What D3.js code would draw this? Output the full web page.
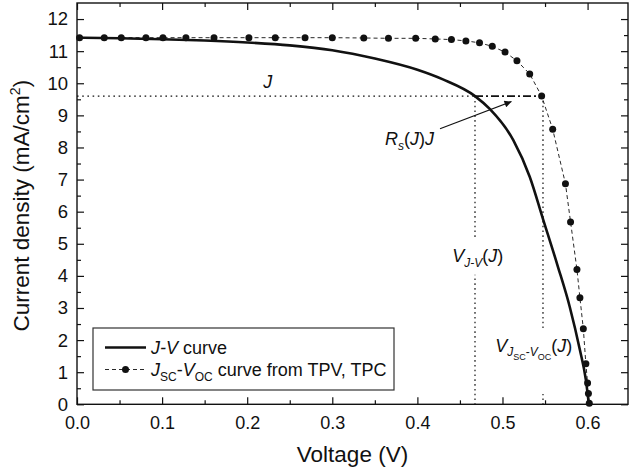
<!DOCTYPE html>
<html><head><meta charset="utf-8">
<script src="https://cdn.jsdelivr.net/npm/d3@7"></script>
<style>
body{margin:0;background:#fff}
svg{display:block}
text{font-family:"Liberation Sans",Arial,Helvetica,sans-serif;fill:#111}
</style>
</head><body>
<svg id="c" width="629" height="472"></svg>
<script>
// ---- data ----
const jvV = [0, 0.05, 0.10, 0.15, 0.20, 0.25, 0.30, 0.35, 0.40, 0.43, 0.4677, 0.485, 0.5127, 0.532, 0.548, 0.565, 0.579, 0.591, 0.598, 0.6015];
const jvJ = [11.42, 11.40, 11.37, 11.33, 11.27, 11.18, 11.03, 10.77, 10.42, 10.12, 9.60, 9.20, 8.23, 7.09, 5.74, 4.30, 3.04, 1.69, 0.76, 0.0];

const tpvV = [0.003, 0.032, 0.052, 0.081, 0.101, 0.128, 0.161, 0.202, 0.233, 0.268, 0.300, 0.337, 0.366, 0.398, 0.421, 0.440, 0.457, 0.473, 0.488, 0.503, 0.517, 0.532, 0.546, 0.559, 0.574, 0.580, 0.5875, 0.591, 0.595, 0.598, 0.600, 0.601, 0.602];
const tpvJ = [11.42, 11.42, 11.42, 11.42, 11.42, 11.42, 11.42, 11.42, 11.42, 11.42, 11.42, 11.41, 11.40, 11.40, 11.38, 11.36, 11.32, 11.26, 11.15, 10.97, 10.70, 10.29, 9.60, 8.57, 6.87, 5.68, 4.20, 3.32, 2.35, 1.26, 0.66, 0.34, 0.03];

const xTicks = [0, 0.1, 0.2, 0.3, 0.4, 0.5, 0.6];
const xTickLabels = ["0.0", "0.1", "0.2", "0.3", "0.4", "0.5", "0.6"];
const xMinor = [0.05, 0.15, 0.25, 0.35, 0.45, 0.55];
const yTicks = [0, 1, 2, 3, 4, 5, 6, 7, 8, 9, 10, 11, 12];
const yMinor = [0.5, 1.5, 2.5, 3.5, 4.5, 5.5, 6.5, 7.5, 8.5, 9.5, 10.5, 11.5];

const annJ = 9.6;          // J level
const annVjv = 0.4677;     // V_J-V(J)
const annVtpv = 0.5476;    // V_Jsc-Voc(J)
const arrowFrom = [0.4266, 8.58];
const arrowTo = [0.5106, 9.43];

// ---- layout ----
const L = 77, R = 628, T = 3, B = 404.3;
const x = d3.scaleLinear().domain([0, 0.6475]).range([L, R]);
const y = d3.scaleLinear().domain([0, 12.5]).range([B, T]);
const svg = d3.select("#c");
const ink = "#111";

// defs
svg.append("defs").append("marker")
  .attr("id", "ah").attr("viewBox", "0 0 10 10").attr("refX", 10).attr("refY", 5)
  .attr("markerWidth", 11).attr("markerHeight", 7).attr("markerUnits", "userSpaceOnUse")
  .attr("orient", "auto")
  .append("path").attr("d", "M0,0 L10,5 L0,10 Z").attr("fill", ink);

// ---- axes ----
function styleAxis(g){
  g.select(".domain").remove();
  g.selectAll(".tick line").attr("stroke", ink).attr("stroke-width", 1.2);
}
svg.append("g").attr("transform", `translate(0,${B})`)
  .call(d3.axisBottom(x).tickValues(xTicks).tickSize(-7).tickPadding(12).tickFormat((d,i)=>xTickLabels[i]))
  .call(styleAxis).call(g=>g.selectAll("text").attr("font-size",18).attr("fill",ink).style("font-family",'"Liberation Sans",Arial,sans-serif'));
svg.append("g").attr("transform", `translate(0,${B})`)
  .call(d3.axisBottom(x).tickValues(xMinor).tickSize(-4).tickFormat(""))
  .call(styleAxis);
svg.append("g").attr("transform", `translate(0,${T})`)
  .call(d3.axisTop(x).tickValues(xTicks).tickSize(-7).tickFormat("")).call(styleAxis);
svg.append("g").attr("transform", `translate(0,${T})`)
  .call(d3.axisTop(x).tickValues(xMinor).tickSize(-4).tickFormat("")).call(styleAxis);

svg.append("g").attr("transform", `translate(${L},0)`)
  .call(d3.axisLeft(y).tickValues(yTicks).tickSize(-7).tickPadding(9).tickFormat(d3.format("d")))
  .call(styleAxis).call(g=>g.selectAll("text").attr("font-size",18.5).attr("fill",ink).style("font-family",'"Liberation Sans",Arial,sans-serif'));
svg.append("g").attr("transform", `translate(${L},0)`)
  .call(d3.axisLeft(y).tickValues(yMinor).tickSize(-4).tickFormat("")).call(styleAxis);
svg.append("g").attr("transform", `translate(${R},0)`)
  .call(d3.axisRight(y).tickValues(yTicks).tickSize(-7).tickFormat("")).call(styleAxis);
svg.append("g").attr("transform", `translate(${R},0)`)
  .call(d3.axisRight(y).tickValues(yMinor).tickSize(-4).tickFormat("")).call(styleAxis);

// frame
svg.append("rect").attr("x", L).attr("y", T).attr("width", R-L).attr("height", B-T)
  .attr("fill", "none").attr("stroke", ink).attr("stroke-width", 1.4);

// axis titles
svg.append("text").attr("x", (L+R)/2).attr("y", 461.5).attr("text-anchor", "middle")
  .attr("font-size", 22.5).text("Voltage (V)");
const yt = svg.append("text").attr("transform", `translate(29,${(T+B)/2+2}) rotate(-90)`)
  .attr("text-anchor", "middle").attr("font-size", 22.5);
yt.append("tspan").text("Current density (mA/cm");
yt.append("tspan").attr("font-size", 14).attr("dy", -9).text("2");
yt.append("tspan").attr("dy", 9).text(")");

// ---- annotation lines ----
const ann = svg.append("g");
ann.append("line").attr("x1", x(0)).attr("x2", x(annVjv)).attr("y1", y(annJ)).attr("y2", y(annJ))
  .attr("stroke", ink).attr("stroke-width", 1.2).attr("stroke-dasharray", "1.6,3.6");
ann.append("line").attr("x1", x(annVjv)).attr("x2", x(annVtpv)).attr("y1", y(annJ)).attr("y2", y(annJ))
  .attr("stroke", ink).attr("stroke-width", 1.6).attr("stroke-dasharray", "8,3,2,3");
[annVjv, annVtpv].forEach(v=>{
  ann.append("line").attr("x1", x(v)).attr("x2", x(v)).attr("y1", y(annJ)).attr("y2", y(0))
    .attr("stroke", ink).attr("stroke-width", 1.2).attr("stroke-dasharray", "1.6,3.2");
});

// labels (optionally with white background to break the dotted lines)
const labels = svg.append("g");
function addLabel(px, py, parts, bg, padTop, padBot){
  const g = labels.append("g");
  const r = g.append("rect").attr("fill", "#fff");
  const t = g.append("text").attr("x", px).attr("y", py).attr("font-size", 18);
  parts.forEach(p=>{
    const s = t.append("tspan").text(p.t);
    if (p.it) s.attr("font-style", "italic");
    if (p.fs) s.attr("font-size", p.fs);
    if (p.dy) s.attr("dy", p.dy);
  });
  if (bg) {
    const bb = t.node().getBBox();
    r.attr("x", bb.x-2).attr("y", bb.y-padTop).attr("width", bb.width+4).attr("height", bb.height+padTop+padBot);
  } else r.remove();
}
addLabel(x(0.2188), y(9.85), [{t:"J", it:true}], false);
addLabel(x(0.362), y(8.08), [{t:"R", it:true},{t:"s", it:true, fs:12, dy:5},{t:"(", dy:-5},{t:"J", it:true},{t:")"},{t:"J", it:true}], false);
addLabel(x(0.4409), y(4.44), [{t:"V", it:true},{t:"J-V", it:true, fs:12, dy:5},{t:"(", dy:-5},{t:"J", it:true},{t:")"}], true, 6, 5);
addLabel(x(0.4915), y(1.63), [{t:"V", it:true},{t:"J", it:true, fs:12, dy:4},{t:"SC", fs:9, dy:4},{t:"-", fs:12, dy:-4},{t:"V", it:true, fs:12},{t:"OC", fs:9, dy:4},{t:"(", dy:-8},{t:"J", it:true},{t:")"}], true, 8, 32);

// arrow
svg.append("line").attr("x1", x(arrowFrom[0])).attr("y1", y(arrowFrom[1]))
  .attr("x2", x(arrowTo[0])).attr("y2", y(arrowTo[1]))
  .attr("stroke", ink).attr("stroke-width", 1.1).attr("marker-end", "url(#ah)");

// ---- series ----
const tpv = tpvV.map((v,i)=>[v, tpvJ[i]]);
const jv = jvV.map((v,i)=>[v, jvJ[i]]);
svg.append("path").datum(tpv)
  .attr("d", d3.line().x(d=>x(d[0])).y(d=>y(d[1])))
  .attr("fill", "none").attr("stroke", ink).attr("stroke-width", 0.9).attr("stroke-dasharray", "4,3");
svg.append("path").datum(jv)
  .attr("d", d3.line().x(d=>x(d[0])).y(d=>y(d[1])).curve(d3.curveMonotoneX))
  .attr("fill", "none").attr("stroke", ink).attr("stroke-width", 2.6);
svg.append("g").selectAll("circle").data(tpv).join("circle")
  .attr("cx", d=>x(d[0])).attr("cy", d=>y(d[1])).attr("r", 3.5).attr("fill", ink);

// ---- legend ----
const lg = svg.append("g");
lg.append("rect").attr("x", 93).attr("y", 328).attr("width", 301).attr("height", 62)
  .attr("fill", "#fff").attr("stroke", "#333").attr("stroke-width", 1.2);
lg.append("line").attr("x1", 105).attr("x2", 146).attr("y1", 347.5).attr("y2", 347.5)
  .attr("stroke", ink).attr("stroke-width", 2.6);
lg.append("line").attr("x1", 105).attr("x2", 146).attr("y1", 369.5).attr("y2", 369.5)
  .attr("stroke", ink).attr("stroke-width", 0.9).attr("stroke-dasharray", "4,3");
lg.append("circle").attr("cx", 125.5).attr("cy", 369.5).attr("r", 3.5).attr("fill", ink);
const l1 = lg.append("text").attr("x", 151).attr("y", 354).attr("font-size", 18);
l1.append("tspan").attr("font-style", "italic").text("J-V");
l1.append("tspan").text(" curve");
const l2 = lg.append("text").attr("x", 151).attr("y", 376).attr("font-size", 18);
l2.append("tspan").attr("font-style", "italic").text("J");
l2.append("tspan").attr("font-size", 12).attr("dy", 5).text("SC");
l2.append("tspan").attr("dy", -5).text("-");
l2.append("tspan").attr("font-style", "italic").text("V");
l2.append("tspan").attr("font-size", 12).attr("dy", 5).text("OC");
l2.append("tspan").attr("dy", -5).text(" curve from TPV, TPC");
</script>
</body></html>
